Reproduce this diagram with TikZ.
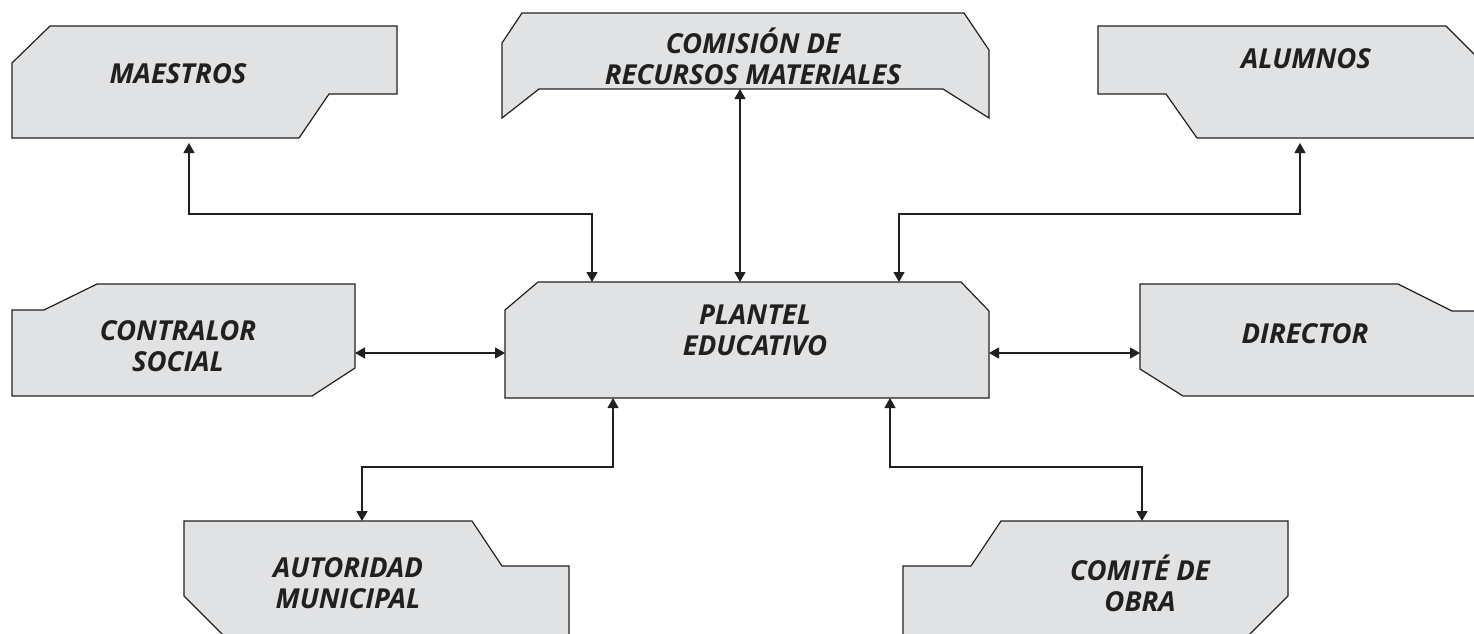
\documentclass[tikz,border=0pt]{standalone}
\usepackage{fontspec}
\setmainfont{Open Sans}
\usetikzlibrary{arrows.meta}
\definecolor{boxfill}{HTML}{E1E2E4}
\definecolor{inkc}{HTML}{231F20}
\begin{document}
\begin{tikzpicture}[x=1pt,y=-1pt,
 shapebox/.style={fill=boxfill,draw=inkc,line width=1.2pt,line join=miter},
 lbl/.style={font=\fontsize{27.5}{31}\selectfont\bfseries\itshape, align=center, text=inkc, inner sep=0pt},
 conn/.style={draw=inkc,line width=1.2pt, {Triangle[width=11pt,length=10pt]}-{Triangle[width=11pt,length=10pt]}}]
\useasboundingbox (0,0) rectangle (1474,633);
\clip (0,0) rectangle (1474,633);
% shapes
\path[shapebox] (50,26) -- (397,26) -- (397,94) -- (329,94) -- (299,138) -- (12,138) -- (12,63) -- cycle;
\path[shapebox] (522,13) -- (964,13) -- (989,50) -- (989,118) -- (943,89) -- (539,89) -- (502,118) -- (502,43) -- cycle;
\path[shapebox] (1098,26) -- (1446,26) -- (1483,63) -- (1483,138) -- (1197,138) -- (1166,94) -- (1098,94) -- cycle;
\path[shapebox] (97,284) -- (355,284) -- (355,368) -- (312,396) -- (12,396) -- (12,310) -- (44,310) -- cycle;
\path[shapebox] (538,282) -- (961,282) -- (989,311) -- (989,398) -- (505,398) -- (505,310) -- cycle;
\path[shapebox] (1140,284) -- (1398,284) -- (1452,311) -- (1483,311) -- (1483,396) -- (1183,396) -- (1140,369) -- cycle;
\path[shapebox] (184,521) -- (472,521) -- (502,566) -- (569,566) -- (569,642) -- (230,642) -- (184,596) -- cycle;
\path[shapebox] (1001,521) -- (1288,521) -- (1288,596) -- (1242,642) -- (903,642) -- (903,566) -- (971,566) -- cycle;
% labels
\node[lbl] (maestros) at (178,74) {MAESTROS};
\node[lbl] (comision) at (753,56) {COMISIÓN DE\\RECURSOS MATERIALES};
\node[lbl] (alumnos) at (1306,59) {ALUMNOS};
\node[lbl] (contralor) at (178,346) {CONTRALOR\\SOCIAL};
\node[lbl] (plantel) at (755,330) {PLANTEL\\EDUCATIVO};
\node[lbl] (director) at (1305,334) {DIRECTOR};
\node[lbl] (autoridad) at (348,583) {AUTORIDAD\\MUNICIPAL};
\node[lbl] (comite) at (1140,583) {COMITÉ DE\\OBRA};
% anchor points
\coordinate (mS) at (189,143);
\coordinate (cS) at (740,89);
\coordinate (aS) at (1300,143);
\coordinate (coE) at (355,353);
\coordinate (dW) at (1140,353);
\coordinate (auN) at (362,521);
\coordinate (cmN) at (1142,521);
\coordinate (pN1) at (592,282);
\coordinate (pN2) at (740,282);
\coordinate (pN3) at (899,282);
\coordinate (pW) at (505,353);
\coordinate (pE) at (989,353);
\coordinate (pS1) at (613,398);
\coordinate (pS2) at (890,398);
% connectors
\draw[conn] (mS) -- (mS |- 0,214) -| (pN1);
\draw[conn] (cS) -- (pN2);
\draw[conn] (aS) -- (aS |- 0,214) -| (pN3);
\draw[conn] (coE) -- (pW);
\draw[conn] (pE) -- (dW);
\draw[conn] (pS1) -- (pS1 |- 0,467) -| (auN);
\draw[conn] (pS2) -- (pS2 |- 0,467) -| (cmN);
\end{tikzpicture}
\end{document}
